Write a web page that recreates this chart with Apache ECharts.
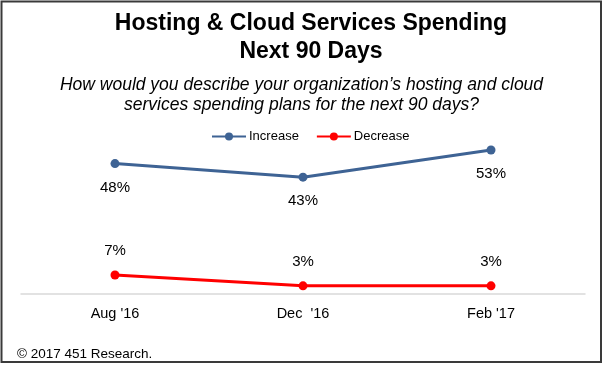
<!DOCTYPE html>
<html>
<head>
<meta charset="utf-8">
<script src="https://cdn.jsdelivr.net/npm/echarts@6/dist/echarts.min.js"></script>
<style>
html,body{margin:0;padding:0;background:#fff;}
#chart{width:603px;height:368px;}
</style>
</head>
<body>
<div id="chart"></div>
<script>
const categories = ["Aug '16", "Dec  '16", "Feb '17"];
const increaseValues = [48, 43, 53];
const decreaseValues = [7, 3, 3];
const seriesNames = ["Increase", "Decrease"];
const titleText = 'Hosting & Cloud Services Spending\nNext 90 Days';
const subtitleText = 'How would you describe your organization\u2019s hosting and cloud\nservices spending plans for the next 90 days?';
const footerText = '\u00a9 2017 451 Research.';

const chart = echarts.init(document.getElementById('chart'));
const font = '"Liberation Sans", Arial, sans-serif';
const labelFmt = p => p.value + '%';

chart.setOption({
  animation: false,
  backgroundColor: '#ffffff',
  title: [
    {
      text: subtitleText,
      left: 'center', top: 70,
      textStyle: { fontFamily: font, fontSize: 17.5, fontStyle: 'italic', fontWeight: 'normal', color: '#000', lineHeight: 20 }
    },
    {
      text: footerText,
      left: 12, top: 342,
      textStyle: { fontFamily: font, fontSize: 13.5, fontWeight: 'normal', color: '#000' }
    }
  ],
  legend: {
    data: seriesNames,
    top: 125, left: 206,
    itemWidth: 34, itemHeight: 10, itemGap: 17,
    textStyle: { fontFamily: font, fontSize: 13, color: '#000', padding: [0, 0, 0, -2] }
  },
  grid: { left: 21, right: 18, top: 131, bottom: 74 },
  xAxis: {
    type: 'category', data: categories, boundaryGap: true,
    axisLine: { show: true, lineStyle: { color: '#d9d9d9', width: 1.5 } },
    axisTick: { show: false },
    axisLabel: { fontFamily: font, fontSize: 14.5, color: '#000', margin: 12 }
  },
  yAxis: { type: 'value', min: 0, max: 60, show: false, splitLine: { show: false } },
  series: [
    {
      name: seriesNames[0], type: 'line', data: increaseValues,
      symbol: 'circle', symbolSize: 9,
      lineStyle: { color: '#3e6394', width: 3 },
      itemStyle: { color: '#3e6394' },
      label: { show: true, position: 'bottom', distance: 12, formatter: labelFmt, fontFamily: font, fontSize: 15, color: '#000' }
    },
    {
      name: seriesNames[1], type: 'line', data: decreaseValues,
      symbol: 'circle', symbolSize: 9,
      lineStyle: { color: '#ff0000', width: 3 },
      itemStyle: { color: '#ff0000' },
      label: { show: true, position: 'top', distance: 12, formatter: labelFmt, fontFamily: font, fontSize: 15, color: '#000' }
    }
  ],
  graphic: [
    {
      type: 'text', x: 311, y: 10, silent: true,
      style: {
        text: titleText, align: 'center', verticalAlign: 'top',
        font: 'bold 23px "Liberation Sans", Arial, sans-serif', lineHeight: 28, fill: '#000'
      }
    },
    {
      type: 'rect', shape: { x: 1.5, y: 1.5, width: 599.5, height: 360.5 },
      style: { fill: 'none', stroke: '#3a3a3a', lineWidth: 2 }, silent: true, z: 100
    }
  ]
});
</script>
</body>
</html>
